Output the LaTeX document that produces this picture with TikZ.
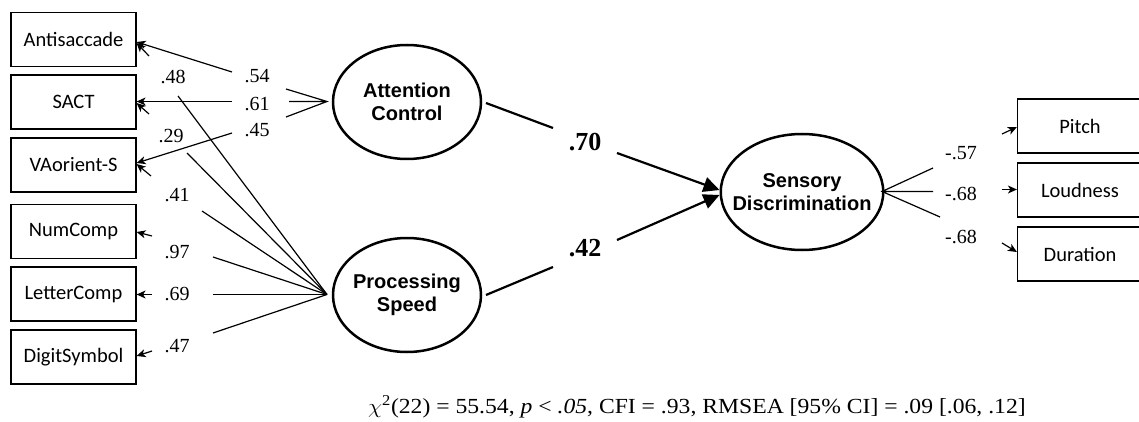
\documentclass[tikz,border=0pt]{standalone}
\usepackage{fontspec}
\setmainfont{Liberation Serif}
\newfontfamily\boxfont{Carlito}
\newfontfamily\latfont{Liberation Sans}
\usetikzlibrary{arrows.meta,shapes.geometric}

\begin{document}
\begin{tikzpicture}[x=1pt,y=-1pt,
  indicator/.style={draw, line width=1.2pt, minimum width=125pt, minimum height=54pt,
    inner sep=0pt, font=\boxfont\fontsize{20.5}{22}\selectfont},
  latent/.style={draw, ellipse, line width=2.5pt, minimum width=148pt, minimum height=114pt,
    inner ysep=0pt, inner xsep=-12pt, align=center,
    font=\latfont\bfseries\fontsize{20}{23}\selectfont},
  loading/.style={inner sep=0pt, font=\fontsize{20}{22}\selectfont},
  pathweight/.style={inner sep=0pt, font=\bfseries\fontsize{26}{28}\selectfont},
  thinline/.style={line width=1.2pt},
  thickline/.style={line width=2.2pt},
  smallarrow/.style={line width=1.2pt, -{Stealth[length=9pt,width=8pt,inset=2.5pt]}},
  bigarrow/.style={line width=2.2pt, -{Triangle[length=16pt,width=15pt]}},
]
\useasboundingbox (0,0) rectangle (1139,422);
\clip (0,0) rectangle (1139,422);

% observed indicators, left column
\node[indicator] (anti) at (73.5,39.5) {Antisaccade};
\node[indicator] (sact) at (73.5,102) {SACT};
\node[indicator] (vao)  at (73.5,165) {VAorient-S};
\node[indicator] (num)  at (73.5,231.5) {NumComp};
\node[indicator] (let)  at (73.5,294) {LetterComp};
\node[indicator] (dig)  at (73.5,357) {DigitSymbol};

% observed indicators, right column
\node[indicator] (pitch) at (1080,126) {Pitch};
\node[indicator] (loud)  at (1080,190) {Loudness};
\node[indicator] (dur)   at (1080,254) {Duration};

% latent factors
\node[latent] (att) at (407,102) {Attention\\Control};
\node[latent] (ps)  at (407,295) {Processing\\Speed};
\node[latent, minimum width=146pt, minimum height=116pt] (sd) at (802,192) {Sensory\\Discrimination};

% attention control loadings
\coordinate (attA) at (327,101.5);
\node[loading] (l54) at (257,76) {.54};
\node[loading] (l61) at (257,104) {.61};
\node[loading] (l45) at (257,130) {.45};
\coordinate (a1) at (286,89);
\coordinate (a2) at (289,101.5);
\coordinate (a3) at (286,117);
\draw[thinline] (a1) -- (attA) -- (a3) (a2) -- (attA);
\coordinate (b1) at (232,72);
\coordinate (b2) at (232,101.5);
\coordinate (b3) at (232,133);
\draw[smallarrow] (b1) -- (anti.east |- 0,42);
\draw[smallarrow] (b2) -- (sact.east |- 0,101.5);
\draw[smallarrow] (b3) -- (vao.east |- 0,163);

% residual stubs
\coordinate (e1) at (149,56);
\coordinate (e2) at (149,114);
\coordinate (e3) at (151,176);
\coordinate (e4) at (152,236);
\coordinate (e5) at (152,294.5);
\coordinate (e6) at (152,351);
\draw[smallarrow] (e1) -- (anti.east |- 0,43);
\draw[smallarrow] (e2) -- (sact.east |- 0,103);
\draw[smallarrow] (e3) -- (vao.east |- 0,164);
\draw[smallarrow] (e4) -- (num.east |- 0,232);
\draw[smallarrow] (e5) -- (let.east |- 0,294.5);
\draw[smallarrow] (e6) -- (dig.east |- 0,356);

% processing speed loadings
\coordinate (psA) at (327,294.5);
\node[loading] (l48) at (173,77) {.48};
\node[loading] (l29) at (171,136) {.29};
\node[loading] (l41) at (177,195) {.41};
\node[loading] (l97) at (177,252) {.97};
\node[loading] (l69) at (177,294) {.69};
\node[loading] (l47) at (177,346) {.47};
\coordinate (p1) at (178,96);
\coordinate (p2) at (187,153);
\coordinate (p3) at (202,211);
\coordinate (p4) at (213,257);
\coordinate (p5) at (213,294.5);
\coordinate (p6) at (213,333);
\foreach \p in {p1,p2,p3,p4,p5,p6} \draw[thinline] (psA) -- (\p);

% structural paths
\node[pathweight] (w70) at (585,142) {.70};
\node[pathweight] (w42) at (585,248) {.42};
\coordinate (s1) at (486,103);
\coordinate (s2) at (553,128);
\coordinate (s3) at (617,153);
\coordinate (t1) at (486,295);
\coordinate (t2) at (553,267);
\coordinate (t3) at (617,240);
\draw[thickline] (s1) -- (s2);
\draw[bigarrow] (s3) -- (sd.west |- 0,190);
\draw[thickline] (t1) -- (t2);
\draw[bigarrow] (t3) -- (sd.west |- 0,195);

% sensory discrimination loadings
\coordinate (sdA) at (882,191.5);
\coordinate (c1) at (933,168);
\coordinate (c2) at (933,191.5);
\coordinate (c3) at (940,217);
\draw[thinline] (c1) -- (sdA) -- (c3) (c2) -- (sdA);
\node[loading] (l57) at (961,153) {-.57};
\node[loading] (l68a) at (961,194) {-.68};
\node[loading] (l68b) at (961,237) {-.68};
\coordinate (r1) at (1002,134);
\coordinate (r2) at (1002,189.5);
\coordinate (r3) at (1002,243);
\draw[smallarrow] (r1) -- (pitch.west |- 0,127);
\draw[smallarrow] (r2) -- (loud.west |- 0,189.5);
\draw[smallarrow] (r3) -- (dur.west |- 0,252);

% fit statistics
\node[inner sep=0pt, anchor=base west, font=\fontsize{21.5}{23}\selectfont] (fit) at (368,413.5)
  {\scalebox{1.1}[1]{$\chi$\textsuperscript{2}(22) = 55.54, \textit{p} < \textit{.05}, CFI = .93, RMSEA [95\% CI] = .09 [.06, .12]}};
\end{tikzpicture}
\end{document}
